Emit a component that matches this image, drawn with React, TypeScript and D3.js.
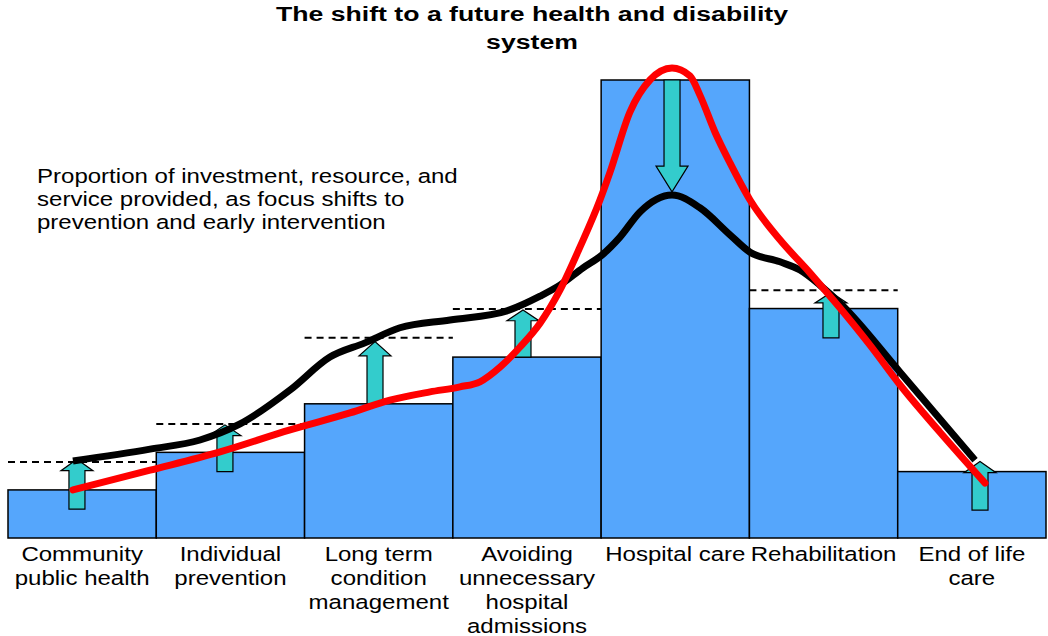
import React from "react";
import * as d3 from "d3";

// categories along the bottom (label lines as shown)
const categories = [
  ["Community", "public health"],
  ["Individual", "prevention"],
  ["Long term", "condition", "management"],
  ["Avoiding", "unnecessary", "hospital", "admissions"],
  ["Hospital care"],
  ["Rehabilitation"],
  ["End of life", "care"],
];

// current proportion (bars), hospital care = 100
const currentValues = [10.5, 18.7, 29.3, 39.5, 100, 50.1, 14.5];
// future proportion (dashed targets), null = no target line
const targetValues = [16.6, 24.9, 43.7, 50.0, null, 54.1, null];

// shift arrows: position in category units, from -> to
const arrowPos = [0.465, 1.463, 2.475, 3.473, 4.478, 5.55, 6.555];
const arrowFrom = [6.3, 14.5, 29.3, 39.5, 100, 43.7, 6.1];
const arrowTo = [17.2, 24.7, 42.9, 49.8, 75.6, 53.6, 16.7];

// black curve (future system)
const blackX = [0.438, 0.958, 1.295, 1.565, 1.902, 2.171, 2.407, 2.643, 2.981, 3.365, 3.588, 3.722, 3.878, 4.006, 4.127, 4.262, 4.478, 4.666, 4.869, 5.004, 5.206, 5.341, 5.476, 5.611, 6.016, 6.521];
const blackY = [16.8, 19.4, 21.4, 24.9, 32.3, 39.5, 42.6, 45.9, 47.6, 49.6, 52.8, 55.2, 59.0, 61.8, 65.7, 71.2, 74.9, 72.1, 66.2, 62.4, 60.3, 58.5, 55.2, 51.3, 36.2, 17.0];

// red curve (current system)
const redX = [0.438, 0.958, 1.43, 1.902, 2.306, 2.576, 2.846, 3.048, 3.183, 3.318, 3.453, 3.588, 3.722, 3.857, 3.992, 4.06, 4.194, 4.329, 4.478, 4.599, 4.666, 4.768, 4.869, 5.004, 5.206, 5.408, 5.611, 5.813, 6.016, 6.285, 6.589];
const redY = [10.5, 14.8, 18.8, 23.6, 27.3, 30.1, 31.9, 33.0, 34.1, 37.3, 41.7, 46.9, 54.1, 63.5, 73.8, 79.9, 93.0, 100.0, 102.6, 100.9, 96.7, 88.6, 81.9, 73.8, 65.1, 57.9, 50.2, 42.1, 33.4, 23.1, 12.0];

const titleLines = ["The shift to a future health and disability", "system"];
const noteLines = [
  "Proportion of investment, resource, and",
  "service provided, as focus shifts to",
  "prevention and early intervention",
];

const W = 1048;
const H = 636;
const FONT = "'Liberation Sans', Arial, Helvetica, sans-serif";
const STRETCH = 1.22;

export default function App() {
  const x = d3.scaleLinear().domain([0, categories.length]).range([8, 1046]);
  const y = d3.scaleLinear().domain([0, 100]).range([538, 80]);
  const bw = x(1) - x(0);

  const line = d3
    .line<[number, number]>()
    .x((d) => x(d[0]))
    .y((d) => y(d[1]))
    .curve(d3.curveMonotoneX);

  const blackPath = line(blackX.map((v, i) => [v, blackY[i]]));
  const redPath = line(redX.map((v, i) => [v, redY[i]]));

  // block arrow outline
  const arrowPath = (i: number) => {
    const cx = x(arrowPos[i]);
    const y0 = y(arrowFrom[i]);
    const y1 = y(arrowTo[i]);
    const dir = y1 < y0 ? -1 : 1;
    const len = Math.abs(y1 - y0);
    const head = len * 0.23;
    const hb = y1 - dir * head;
    const sw = 8;
    const hw = 16;
    return `M${cx - sw},${y0} L${cx - sw},${hb} L${cx - hw},${hb} L${cx},${y1} L${cx + hw},${hb} L${cx + sw},${hb} L${cx + sw},${y0} Z`;
  };

  const stretched = (tx: number, ty: number, s = STRETCH) => `translate(${tx},${ty}) scale(${s},1)`;

  return (
    <svg
      width={W}
      height={H}
      style={{ position: "absolute", left: 0, top: 0, background: "#fff" }}
      fontFamily={FONT}
    >
      {/* title */}
      {titleLines.map((t, i) => (
        <text
          key={t}
          transform={stretched(532, 21 + i * 28, 1.3)}
          textAnchor="middle"
          fontSize={20.5}
          fontWeight="bold"
          fill="#000"
        >
          {t}
        </text>
      ))}

      {/* bars */}
      {currentValues.map((v, i) => (
        <rect
          key={i}
          x={x(i)}
          y={y(v)}
          width={bw}
          height={y(0) - y(v)}
          fill="#55a6fc"
          stroke="#000"
          strokeWidth={1.5}
        />
      ))}

      {/* shift arrows */}
      {arrowPos.map((_, i) => (
        <path key={i} d={arrowPath(i)} fill="#33cccc" stroke="#000" strokeWidth={1.2} strokeLinejoin="miter" />
      ))}

      {/* target dashed lines */}
      {targetValues.map((v, i) =>
        v == null ? null : (
          <line
            key={i}
            x1={x(i)}
            x2={x(i + 1)}
            y1={y(v)}
            y2={y(v)}
            stroke="#000"
            strokeWidth={2}
            strokeDasharray="7,5"
          />
        )
      )}

      {/* curves */}
      <path d={blackPath ?? ""} fill="none" stroke="#000" strokeWidth={7} strokeLinecap="butt" />
      <path d={redPath ?? ""} fill="none" stroke="#ff0000" strokeWidth={7} strokeLinecap="round" />

      {/* note */}
      {noteLines.map((t, i) => (
        <text key={t} transform={stretched(37, 183 + i * 23)} fontSize={19.7} fill="#000">
          {t}
        </text>
      ))}

      {/* category labels */}
      {categories.map((lines, i) =>
        lines.map((t, j) => (
          <text
            key={i + "-" + j}
            transform={stretched(x(i + 0.5), 561 + j * 24)}
            textAnchor="middle"
            fontSize={19.7}
            fill="#000"
          >
            {t}
          </text>
        ))
      )}
    </svg>
  );
}
